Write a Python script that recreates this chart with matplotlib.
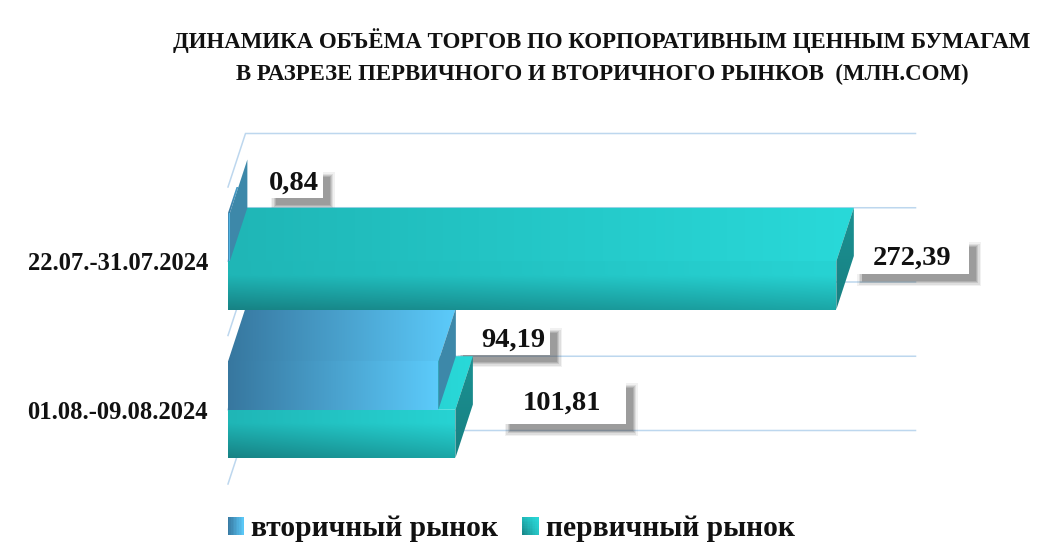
import numpy as np
import matplotlib
matplotlib.use("Agg")
import matplotlib.pyplot as plt
from matplotlib.colors import to_rgb
from matplotlib.legend_handler import HandlerBase
from matplotlib.patches import Patch, Polygon, Rectangle
from matplotlib.transforms import IdentityTransform

categories = ["01.08.-09.08.2024", "22.07.-31.07.2024"]
secondary = [94.19, 0.84]
primary = [101.81, 272.39]
secondary_labels = ["94,19", "0,84"]
primary_labels = ["101,81", "272,39"]
series_names = ["вторичный рынок", "первичный рынок"]
title_text = ("ДИНАМИКА ОБЪЁМА ТОРГОВ ПО КОРПОРАТИВНЫМ ЦЕННЫМ БУМАГАМ\n"
              "В РАЗРЕЗЕ ПЕРВИЧНОГО И ВТОРИЧНОГО РЫНКОВ  (МЛН.СОМ)")

W, H = 1057, 551
plt.rcParams["font.family"] = ["Liberation Serif", "DejaVu Serif"]
fig = plt.figure(figsize=(W / 100, H / 100), dpi=100)
L, R, T, B = 228, 898, 187, 484
ax = fig.add_axes([L / W, 1 - B / H, (R - L) / W, (B - T) / H])
ax.set_xlim(0, 300)
ax.set_ylim(0, 2)
ax.patch.set_visible(False)
for s in ax.spines.values():
    s.set_visible(False)
ax.set_xticks([])
ax.set_yticks([0.5, 1.5])
ax.set_yticklabels(categories, fontsize=17.7, fontweight="bold", color="#111111")
ax.tick_params(axis="y", length=0, pad=14.4)

DX = 17.5 * 300 / (R - L)
DY = 53.5 * 2 / (B - T)
BAR = 0.325
GRID = "#BDD7EE"

for g in [0, 0.5, 1, 1.5, 2]:
    ax.plot([0, DX, DX + 300], [g, g + DY, g + DY], color=GRID, lw=1.1,
            clip_on=False, zorder=1)


def blend(c0, c1, t):
    c0, c1 = np.array(to_rgb(c0)), np.array(to_rgb(c1))
    return c0[None, None, :] * (1 - t[..., None]) + c1[None, None, :] * t[..., None]


def blue_img():
    t = np.linspace(0, 1, 128)[None, :].repeat(2, axis=0)
    return blend("#37779F", "#5CCBFB", t)


def teal_front_img():
    xs, ys = np.meshgrid(np.linspace(0, 1, 128), np.linspace(0, 1, 64))
    base = blend("#1FB6B6", "#27D3D3", xs)
    dark = blend("#178284", "#1BA6A6", xs)
    k = np.clip(ys / 0.72, 0, 1)[..., None]
    return dark * (1 - k) + base * k


def teal_top_img():
    t = np.linspace(0, 1, 128)[None, :].repeat(2, axis=0)
    return blend("#1FB6B6", "#29D9D9", t)


def teal_side_img():
    xs, ys = np.meshgrid(np.linspace(0, 1, 8), np.linspace(0, 1, 32))
    return blend("#178082", "#1B9192", ys)


def face(poly, img, z):
    pts = np.array(poly)
    x0, y0 = pts.min(axis=0)
    x1, y1 = pts.max(axis=0)
    im = ax.imshow(img, extent=[x0, x1, y0, y1], origin="lower", aspect="auto",
                   interpolation="bilinear", zorder=z)
    im.set_clip_path(Polygon(pts, closed=True, transform=ax.transData))
    im.set_clip_on(True)


def bar3d(v, y0, kind, z):
    y1 = y0 + BAR
    front = [(0, y0), (v, y0), (v, y1), (0, y1)]
    top = [(0, y1), (v, y1), (v + DX, y1 + DY), (DX, y1 + DY)]
    side = [(v, y0), (v + DX, y0 + DY), (v + DX, y1 + DY), (v, y1)]
    if kind == "blue":
        face(top, blue_img(), z)
        ax.add_patch(Polygon(side, closed=True, fc="#3D88A9", ec="none", zorder=z, clip_on=False))
        face(front, blue_img(), z + 0.1)
    else:
        face(top, teal_top_img(), z)
        face(side, teal_side_img(), z)
        face(front, teal_front_img(), z + 0.1)


for i in [0, 1]:
    center = i + 0.5
    bar3d(primary[i], center - BAR, "teal", 13 + i * 2)
    bar3d(secondary[i], center, "blue", 14 + i * 2)
ax.set_xlim(0, 300)
ax.set_ylim(0, 2)


def label(value, ybase, text, bx, by, bw, bh, tx, ty):
    """Box and text placed at pixel offsets from the bar end at (value, ybase)."""
    px, py = ax.transData.transform((value, ybase))
    left, bottom = px + bx - bw / 2, py + by - bh / 2
    for k, a in zip([5, 3.5, 2, 0.8, 0], [0.08, 0.12, 0.16, 0.2, 0.22]):
        ax.add_artist(Rectangle((left + 7 - k, bottom - 7 - k), bw + 2 * k, bh + 2 * k,
                                fc="#555555", ec="none", alpha=a, zorder=5, clip_on=False,
                                transform=IdentityTransform()))
    ax.add_artist(Rectangle((left, bottom), bw, bh, fc="white", ec="none", zorder=6,
                            clip_on=False, transform=IdentityTransform()))
    ax.annotate(text, (value, ybase), xytext=(tx, ty), textcoords="offset pixels",
                ha="center", va="center", fontsize=20.5, fontweight="bold",
                color="#111111", zorder=30, annotation_clip=False)


label(secondary[1], 1.5, secondary_labels[1], 66, 77, 54, 28, 64, 78)
label(primary[1], 1.5, primary_labels[1], 76, 4, 114, 34, 76, 3)
label(secondary[0], 0.5, secondary_labels[0], 65, 69, 94, 29, 75, 70)
label(primary[0], 0.5, primary_labels[0], 109, 7, 123, 43, 107, 7)


class GradHandler(HandlerBase):
    def __init__(self, c00, c10, c01, c11):
        super().__init__()
        self.c = [np.array(to_rgb(c)) for c in (c00, c10, c01, c11)]

    def create_artists(self, legend, orig, xd, yd, w, h, fs, trans):
        out = []
        n = 10
        for ix in range(n):
            for iy in range(n):
                u, v = (ix + .5) / n, (iy + .5) / n
                col = (self.c[0] * (1 - u) * (1 - v) + self.c[1] * u * (1 - v)
                       + self.c[2] * (1 - u) * v + self.c[3] * u * v)
                out.append(Rectangle((-xd + w * ix / n, -yd + h * iy / n), w / n + .3, h / n + .3,
                                     fc=col, ec="none", transform=trans))
        return out


h1, h2 = Patch(label=series_names[0]), Patch(label=series_names[1])
leg = fig.legend(handles=[h1, h2], loc="lower left", bbox_to_anchor=(201 / W, 1 - 569 / H),
                 ncols=2, frameon=False, handlelength=0.55, handleheight=0.55,
                 handletextpad=0.25, columnspacing=0.8, labelcolor="#111111",
                 prop={"weight": "bold", "size": 21.3},
                 handler_map={h1: GradHandler("#37779F", "#5CCBFB", "#37779F", "#5CCBFB"),
                              h2: GradHandler("#178284", "#28C8C8", "#20B8B8", "#2AD9D9")})

fig.text(602 / W, 1 - 57 / H, title_text, ha="center", va="center", fontsize=16.5,
         fontweight="bold", color="#111111", linespacing=1.68)

fig.savefig("out.png", dpi=100, facecolor="white")
